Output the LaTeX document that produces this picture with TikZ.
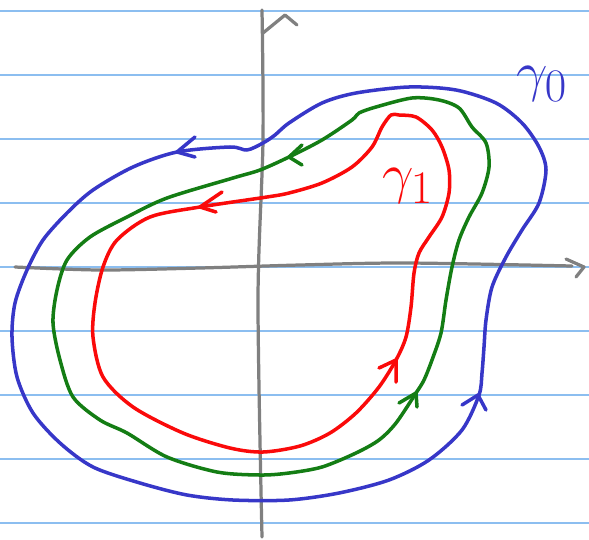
\documentclass[tikz,border=0pt]{standalone}
\usepackage{amsmath,amssymb}
\usepackage{xcolor}
\usepackage{tikz}
\usetikzlibrary{positioning,calc}

\definecolor{penblue}{RGB}{55,55,200}
\definecolor{pengreen}{RGB}{20,125,20}
\definecolor{penred}{RGB}{250,10,10}
\definecolor{pengray}{RGB}{128,128,128}
\definecolor{ruleblue}{RGB}{140,190,240}

\begin{document}
\begin{tikzpicture}[x=0.025cm,y=-0.025cm,
    rule/.style={ruleblue,line width=0.9pt},
    axis/.style={pengray,line width=2.3pt,line cap=round,line join=round},
    curve/.style={line width=2.5pt,line cap=round,line join=round},
    lbl/.style={font=\Huge,scale=1.6,inner sep=0pt}]
  \useasboundingbox (0,0) rectangle (589,539);
  % ruled paper
  \foreach \y in {11,75,...,523}{ \draw[rule] (0,\y) -- (589,\y); }
  % axes, drawn by hand
  \draw[axis] plot[smooth] coordinates {(262,10) (263,140) (258,300) (262,537)};
  \draw[axis] (263,33) -- (285,15) -- (297,25);
  \draw[axis] plot[smooth] coordinates {(15,267) (100,270) (200,268) (300,265) (406,263) (572,266)};
  \draw[axis] (566,259) -- (584,267) -- (576,277);
  % gamma_0
  \draw[curve,penblue] plot[smooth cycle,tension=0.5] coordinates {
    (27,270) (15,303) (12,337) (17,377) (33,413) (60,443) (93,467)
    (140,483) (187,495) (233,500) (289,500) (339,493) (389,480) (429,460)
    (462,430) (479,395) (482,373) (484,347) (486,320) (492,287) (506,257)
    (522,230) (539,203) (546,170) (539,147) (522,123) (496,103) (456,90)
    (409,87) (356,93) (322,103) (289,123) (275,135) (263,143) (247,150)
    (230,147) (177,152) (133,167) (93,190) (67,213) (43,240)};
  \draw[curve,penblue] (195,137) -- (177,152) -- (195,157);
  \draw[curve,penblue] (462,405) -- (478,395) -- (486,410);
  % deformed curve
  \draw[curve,pengreen] plot[smooth cycle,tension=0.5] coordinates {
    (67,260) (57,290) (53,323) (60,360) (73,397) (100,420) (127,433)
    (167,457) (217,472) (260,475) (289,473) (322,467) (356,453) (379,440)
    (396,423) (416,393) (424,380) (432,360) (441,333) (446,300) (452,267)
    (459,240) (469,217) (482,193) (489,167) (486,143) (472,127) (459,108)
    (439,100) (412,98) (376,107) (359,113) (352,120) (322,140) (289,157)
    (260,170) (233,178) (167,198) (127,217) (90,237)};
  \draw[curve,pengreen] (302,145) -- (289,157) -- (302,165);
  \draw[curve,pengreen] (399,403) -- (416,393) -- (417,407);
  % gamma_1
  \draw[curve,penred] plot[smooth cycle,tension=0.5] coordinates {
    (103,267) (95,303) (93,337) (103,377) (133,407) (183,433) (230,448)
    (263,452) (300,446) (330,433) (356,413) (379,387) (396,360) (406,337)
    (411,307) (414,273) (419,253) (429,237) (442,217) (449,193) (449,170)
    (442,147) (432,130) (416,117) (399,115) (391,115) (382,127) (372,147)
    (352,167) (322,183) (289,193) (267,197) (200,207) (150,217) (117,240)};
  \draw[curve,penred] (222,192) -- (200,207) -- (216,212);
  \draw[curve,penred] (379,368) -- (396,360) -- (396,382);
  % labels
  \node[lbl,penblue] (g0) at (542,84) {$\gamma_0$};
  \node[lbl,penred] (g1) at (408,186) {$\gamma_1$};
\end{tikzpicture}
\end{document}
